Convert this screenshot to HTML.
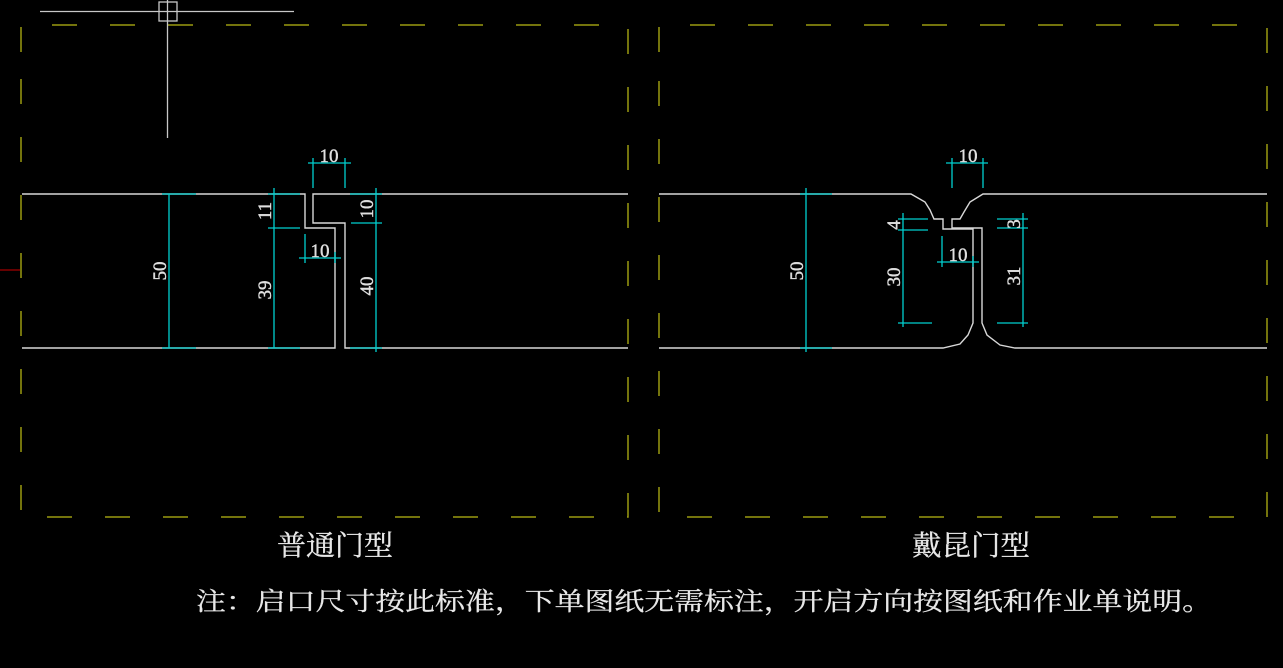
<!DOCTYPE html>
<html><head><meta charset="utf-8"><style>
html,body{margin:0;padding:0;background:#000;width:1283px;height:668px;overflow:hidden}
svg{display:block}
text{font-family:"Liberation Serif","Noto Serif CJK SC",serif}
</style></head><body>
<svg width="1283" height="668" viewBox="0 0 1283 668">
<g fill="none" stroke="#9a9a10" stroke-width="1.5" stroke-dasharray="25 33">
<path d="M21 52 V25 H628 V517 H21 Z"/>
<path d="M659 52 V25 H1267 V517 H659 Z"/>
</g>
<g stroke="#c8c8c8" stroke-width="1.3" fill="none">
<line x1="40" y1="11.5" x2="294" y2="11.5"/>
<line x1="167.5" y1="0" x2="167.5" y2="138"/>
<rect x="159" y="2" width="18" height="19"/>
</g>
<line x1="0" y1="270" x2="20" y2="270" stroke="#c00" stroke-width="1"/>
<g stroke="#d8d8d8" stroke-width="1.4" fill="none">
<path d="M22 194 H305 V228 H335 V348 H22"/>
<path d="M628 194 H313 V223 H345 V348 H628"/>
</g>
<g stroke="#00d0d0" stroke-width="1.3" fill="none">
<line x1="169" y1="194" x2="169" y2="348"/><line x1="162" y1="194" x2="196" y2="194"/><line x1="162" y1="348" x2="196" y2="348"/>
<line x1="274" y1="188" x2="274" y2="348"/><line x1="268" y1="194" x2="300" y2="194"/><line x1="268" y1="228" x2="300" y2="228"/><line x1="268" y1="348" x2="300" y2="348"/>
<line x1="376" y1="188" x2="376" y2="352"/><line x1="350" y1="194" x2="382" y2="194"/><line x1="351" y1="223" x2="382" y2="223"/><line x1="350" y1="348" x2="382" y2="348"/>
<line x1="308" y1="163" x2="351" y2="163"/><line x1="313" y1="158" x2="313" y2="188"/><line x1="345" y1="158" x2="345" y2="188"/>
<line x1="299" y1="258" x2="341" y2="258"/><line x1="305" y1="234" x2="305" y2="263"/><line x1="335" y1="252" x2="335" y2="263"/>
</g>
<g stroke="#d8d8d8" stroke-width="1.4" fill="none">
<path d="M659 194 H911 L925 202 L930 210 L934 219 H943 V229 H973 V323 L968 335 L960 344 L943 348 H659"/>
<path d="M1267 194 H983 L970 202 L964 212 L960 219 H952 V228 H982 V323 L987 335 L1000 345 L1015 348 H1267"/>
</g>
<g stroke="#00d0d0" stroke-width="1.3" fill="none">
<line x1="806" y1="188" x2="806" y2="352"/><line x1="800" y1="194" x2="832" y2="194"/><line x1="800" y1="348" x2="832" y2="348"/>
<line x1="903" y1="213" x2="903" y2="327"/><line x1="898" y1="219" x2="928" y2="219"/><line x1="898" y1="230" x2="928" y2="230"/><line x1="898" y1="323" x2="932" y2="323"/>
<line x1="1023" y1="213" x2="1023" y2="327"/><line x1="997" y1="219" x2="1028" y2="219"/><line x1="997" y1="228" x2="1028" y2="228"/><line x1="997" y1="323" x2="1028" y2="323"/>
<line x1="946" y1="163" x2="988" y2="163"/><line x1="952" y1="158" x2="952" y2="188"/><line x1="983" y1="158" x2="983" y2="188"/>
<line x1="937" y1="262" x2="979" y2="262"/><line x1="942" y1="236" x2="942" y2="267"/><line x1="973" y1="256" x2="973" y2="267"/>
</g>
<g fill="#e0e0e0" font-size="19" stroke="#e0e0e0" stroke-width="0.4">
<text x="329" y="162" text-anchor="middle">10</text>
<text x="320" y="257" text-anchor="middle">10</text>
<text x="968" y="162" text-anchor="middle">10</text>
<text x="958" y="261" text-anchor="middle">10</text>
<text transform="translate(166,271) rotate(-90)" text-anchor="middle">50</text>
<text transform="translate(271,211) rotate(-90)" text-anchor="middle">11</text>
<text transform="translate(271,290) rotate(-90)" text-anchor="middle">39</text>
<text transform="translate(373,209) rotate(-90)" text-anchor="middle">10</text>
<text transform="translate(373,286) rotate(-90)" text-anchor="middle">40</text>
<text transform="translate(803,271) rotate(-90)" text-anchor="middle">50</text>
<text transform="translate(900,225) rotate(-90)" text-anchor="middle">4</text>
<text transform="translate(900,277) rotate(-90)" text-anchor="middle">30</text>
<text transform="translate(1020,224) rotate(-90)" text-anchor="middle">3</text>
<text transform="translate(1020,276) rotate(-90)" text-anchor="middle">31</text>
</g>
<g fill="#e8e8e8" stroke="#e8e8e8" stroke-width="0.3">
<text x="277" y="555" font-size="28" textLength="116" lengthAdjust="spacingAndGlyphs">普通门型</text>
<text x="912" y="555" font-size="28" textLength="118" lengthAdjust="spacingAndGlyphs">戴昆门型</text>
<text x="196" y="610" font-size="25" textLength="1016" lengthAdjust="spacingAndGlyphs">注：启口尺寸按此标准，下单图纸无需标注，开启方向按图纸和作业单说明。</text>
</g>
</svg>
</body></html>
